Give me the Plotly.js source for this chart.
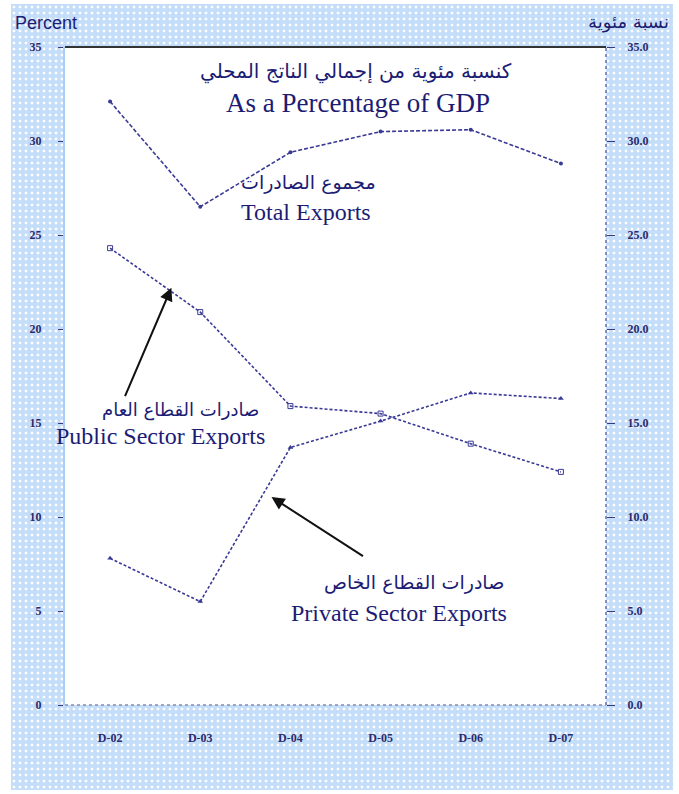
<!DOCTYPE html>
<html>
<head>
<meta charset="utf-8">
<script src="https://cdn.plot.ly/plotly-3.0.1.min.js"></script>
<style>
  body { margin: 0; background: #fff; }
  #bg {
    position: absolute; left: 11px; top: 4px; width: 662px; height: 786px;
    background-color: #c4ddf8;
    background-image: radial-gradient(circle, #ffffff 1.2px, transparent 1.7px);
    background-size: 6px 6px;
  }
  #chart { position: absolute; left: 0; top: 0; width: 679px; height: 794px; }
</style>
</head>
<body>
<div id="bg"></div>
<div id="chart"></div>
<script>
const years = ['D-02', 'D-03', 'D-04', 'D-05', 'D-06', 'D-07'];
const totalExports = [32.1, 26.5, 29.4, 30.5, 30.6, 28.8];
const publicExports = [24.3, 20.9, 15.9, 15.5, 13.9, 12.4];
const privateExports = [7.8, 5.5, 13.7, 15.1, 16.6, 16.3];

const leftTicks = [0, 5, 10, 15, 20, 25, 30, 35];

const navy = '#1c1c74';
const lineCol = '#3a3a96';
const serif = 'Liberation Serif, Times New Roman, serif';
const arabic = 'DejaVu Sans, Arial, sans-serif';

const traces = [
  {
    x: years, y: totalExports, name: 'Total Exports', type: 'scatter', mode: 'lines+markers',
    line: {color: lineCol, width: 1.6, dash: '4px,2px'},
    marker: {size: 4, color: lineCol, symbol: 'circle'}
  },
  {
    x: years, y: publicExports, name: 'Public Sector Exports', type: 'scatter', mode: 'lines+markers',
    line: {color: lineCol, width: 1.6, dash: '3px,2px'},
    marker: {size: 5, color: lineCol, symbol: 'square-open'}
  },
  {
    x: years, y: privateExports, name: 'Private Sector Exports', type: 'scatter', mode: 'lines+markers',
    line: {color: lineCol, width: 1.6, dash: '3px,2px'},
    marker: {size: 5, color: lineCol, symbol: 'triangle-up'}
  },
  {
    x: years, y: totalExports, yaxis: 'y2', type: 'scatter', mode: 'lines',
    line: {width: 0}, hoverinfo: 'skip', showlegend: false
  }
];

const tickFont = {family: serif, size: 12, color: '#2a2a6e', weight: 'bold'};

Plotly.newPlot('chart', traces, {
  width: 679,
  height: 794,
  margin: {l: 65, r: 73, t: 47, b: 89},
  paper_bgcolor: 'rgba(0,0,0,0)',
  plot_bgcolor: '#ffffff',
  showlegend: false,
  xaxis: {
    type: 'category',
    range: [-0.5, 5.5],
    showgrid: false,
    zeroline: false,
    showline: false,
    ticks: '',
    tickfont: tickFont,
    ticklabelstandoff: 24
  },
  yaxis: {
    range: [0, 35],
    tickvals: leftTicks,
    showgrid: false,
    zeroline: false,
    showline: true,
    linecolor: '#a9cdf3',
    linewidth: 2,
    ticks: 'outside',
    ticklen: 5,
    tickcolor: '#3a3a80',
    tickfont: tickFont,
    ticklabelstandoff: 14
  },
  yaxis2: {
    overlaying: 'y',
    side: 'right',
    range: [0, 35],
    tickvals: leftTicks,
    tickformat: '.1f',
    showgrid: false,
    zeroline: false,
    showline: false,
    ticks: 'outside',
    ticklen: 8,
    tickcolor: '#3a3a80',
    tickfont: tickFont,
    ticklabelstandoff: 10
  },
  shapes: [
    {type: 'line', xref: 'paper', yref: 'paper', x0: 0, x1: 1, y0: 1, y1: 1, line: {color: '#333333', width: 2}},
    {type: 'line', xref: 'paper', yref: 'paper', x0: 1, x1: 1, y0: 0, y1: 1, line: {color: '#6a6aa0', width: 1.5, dash: 'dot'}},
    {type: 'line', xref: 'paper', yref: 'paper', x0: 0, x1: 1, y0: 0, y1: 0, line: {color: '#8a8ab0', width: 1.5, dash: 'dot'}}
  ],
  annotations: [
    {xref: 'paper', yref: 'paper', x: -0.097, y: 1.018, xanchor: 'left', yanchor: 'bottom', showarrow: false,
     text: 'Percent', font: {family: 'Liberation Sans, Arial, sans-serif', size: 18, color: navy}},
    {xref: 'paper', yref: 'paper', x: 1.12, y: 1.018, xanchor: 'right', yanchor: 'bottom', showarrow: false,
     text: 'نسبة مئوية', font: {family: arabic, size: 18, color: navy}},
    {x: 2.73, y: 33.7, showarrow: false, text: 'كنسبة مئوية من إجمالي الناتج المحلي', font: {family: arabic, size: 20, color: navy}},
    {x: 2.75, y: 32.0, showarrow: false, text: 'As a Percentage of GDP', font: {family: serif, size: 27, color: navy}},
    {x: 2.2, y: 27.8, showarrow: false, text: 'مجموع الصادرات', font: {family: arabic, size: 19, color: navy}},
    {x: 2.17, y: 26.2, showarrow: false, text: 'Total Exports', font: {family: serif, size: 24, color: navy}},
    {x: 0.78, y: 15.7, showarrow: false, text: 'صادرات القطاع العام', font: {family: arabic, size: 18, color: navy}},
    {x: 0.56, y: 14.3, showarrow: false, text: 'Public Sector Exports', font: {family: serif, size: 24, color: navy}},
    {x: 3.37, y: 6.5, showarrow: false, text: 'صادرات القطاع الخاص', font: {family: arabic, size: 19, color: navy}},
    {x: 3.2, y: 4.9, showarrow: false, text: 'Private Sector Exports', font: {family: serif, size: 24, color: navy}},
    {x: 0.68, y: 22.2, text: '', showarrow: true, arrowhead: 2, arrowsize: 1.3, arrowwidth: 2, arrowcolor: '#111111',
     ax: -47, ay: 110},
    {x: 1.79, y: 11.06, text: '', showarrow: true, arrowhead: 2, arrowsize: 1.3, arrowwidth: 2, arrowcolor: '#111111',
     ax: 93, ay: 60}
  ]
}, {displayModeBar: false});
</script>
</body>
</html>
